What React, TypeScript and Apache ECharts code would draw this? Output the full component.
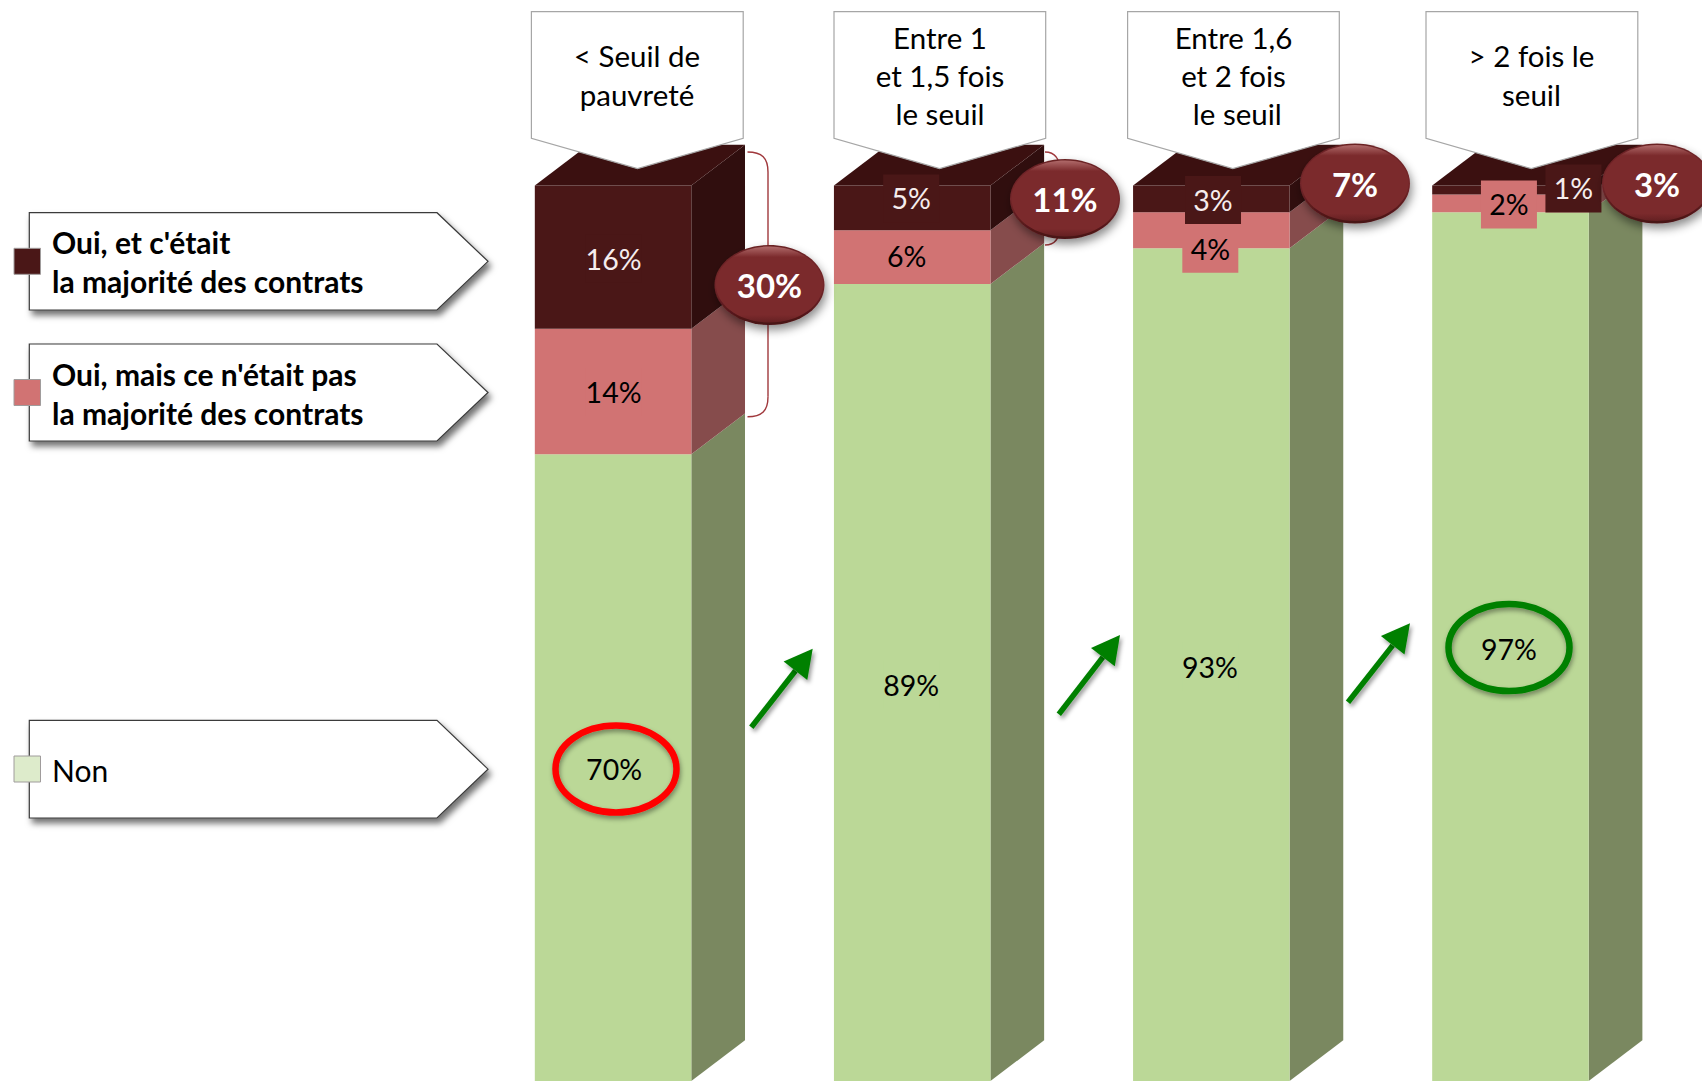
import React, { useEffect, useRef } from "react";
import * as echarts from "echarts";

// Income brackets, left to right
const categories = [
  "< Seuil de\npauvreté",
  "Entre 1\net 1,5 fois\nle seuil",
  "Entre 1,6\net 2 fois\n le seuil",
  "> 2 fois le\nseuil",
];

// Shares in percent
const nonValues = [70, 89, 93, 97];
const ouiMinoriteValues = [14, 6, 4, 2];
const ouiMajoriteValues = [16, 5, 3, 1];
const totalOui = [30, 11, 7, 3];

const nonName = "Non";
const ouiMinoriteName = "Oui, mais ce n'était pas\nla majorité des contrats";
const ouiMajoriteName = "Oui, et c'était\nla majorité des contrats";

// Where the value labels sit relative to the middle of their segment
const nonLabelShift = [[1, 1.5], [-1, 2], [-1.3, 2], [-1.5, 2]];
const ouiMinoriteLabelShift = [[0.5, 0.5], [-5.6, -1], [-1, 18.5], [-1.5, 1]];
const ouiMajoriteLabelShift = [[0.5, 1.5], [-1, -9.5], [1.7, 1], [63, -1.5]];

// Badge centres for the totals
const badgeCentres = [[769.5, 285], [1065, 199], [1355, 183.5], [1657, 183.5]];
// Header callouts: left edge, right edge, tip
const headerBoxes = [[531.4, 743.2, 637.5], [834, 1045.7, 939.6], [1127.6, 1339.3, 1232.8], [1426, 1637.8, 1531.3]];
const headerTextX = [637, 940, 1233.5, 1531.5];
// Trend arrows between the columns: tail x, tail y, tip x, tip y
const trendArrows = [
  [751.3, 727.3, 812.7, 648.7],
  [1058.8, 714.3, 1120, 635],
  [1348, 702.3, 1410, 623.3],
];

const COLORS = {
  dark: { front: "#4A1717", side: "#300E0E", top: "#3B1010" },
  pink: { front: "#D17373", side: "#864C4C" },
  green: { front: "#BBD897", side: "#7A8860" },
};
const FONT = "Lato";
const BAR_WIDTH = 156.5;
const DEPTH_X = 53.7;
const DEPTH_Y = 40.7;
const LABEL_SIZE = 28.5;

// One stacked segment of a column: a front face and a side face,
// plus the top face for the uppermost segment.
function segmentRenderer(front: string, side: string, top?: string) {
  return (_params: any, api: any) => {
    const i = api.value(0);
    const [cx, yLow] = api.coord([i, api.value(1)]);
    const [, yHigh] = api.coord([i, api.value(2)]);
    const l = cx - BAR_WIDTH / 2;
    const r = cx + BAR_WIDTH / 2;
    const children: any[] = [
      {
        type: "polygon",
        shape: { points: [[r, yHigh], [r + DEPTH_X, yHigh - DEPTH_Y], [r + DEPTH_X, yLow - DEPTH_Y], [r, yLow]] },
        style: { fill: side },
      },
      { type: "rect", shape: { x: l, y: yHigh, width: BAR_WIDTH, height: yLow - yHigh }, style: { fill: front } },
    ];
    if (top) {
      children.push({
        type: "polygon",
        shape: { points: [[l, yHigh], [l + DEPTH_X, yHigh - DEPTH_Y], [r + DEPTH_X, yHigh - DEPTH_Y], [r, yHigh]] },
        style: { fill: top },
      });
    }
    return { type: "group", children };
  };
}

function stacked(lower: number[], values: number[]) {
  return values.map((v, i) => [i, lower[i], lower[i] + v]);
}

function labelRenderer(fill: string, textColor: string, shifts: number[][]) {
  return (_params: any, api: any) => {
    const i = api.value(0);
    const v = api.value(2) - api.value(1);
    const [cx, cy] = api.coord([i, (api.value(1) + api.value(2)) / 2]);
    const x = cx + shifts[i][0];
    const y = cy + shifts[i][1];
    return {
      type: "group",
      children: [
        { type: "rect", shape: { x: x - 28, y: y - 24, width: 56, height: 48 }, style: { fill } },
        {
          type: "text",
          style: {
            x,
            y,
            text: `${v}%`,
            fill: textColor,
            font: `${LABEL_SIZE}px ${FONT}`,
            align: "center",
            verticalAlign: "middle",
          },
        },
      ],
    };
  };
}

function badgeRenderer(_params: any, api: any) {
  const i = api.value(0);
  const [cx, cy] = badgeCentres[i];
  return {
    type: "group",
    children: [
      {
        type: "ellipse",
        shape: { cx, cy, rx: 55, ry: 40 },
        style: {
          fill: new echarts.graphic.LinearGradient(0, 0, 0, 1, [
            { offset: 0, color: "#6A2224" },
            { offset: 0.5, color: "#73262A" },
            { offset: 1, color: "#481214" },
          ]),
          shadowBlur: 10,
          shadowColor: "rgba(0,0,0,0.45)",
          shadowOffsetX: 2,
          shadowOffsetY: 5,
        },
      },
      {
        type: "ellipse",
        shape: { cx, cy: cy - 0.5, rx: 53.5, ry: 38 },
        style: {
          fill: new echarts.graphic.LinearGradient(0, 0, 0, 1, [
            { offset: 0, color: "#B06A6A" },
            { offset: 0.14, color: "#7B2A2C" },
            { offset: 0.9, color: "#7B2A2C" },
            { offset: 1, color: "#642022" },
          ]),
        },
      },
      {
        type: "text",
        style: {
          x: cx,
          y: cy,
          text: `${api.value(1)}%`,
          fill: "#FFFFFF",
          font: `bold 33px ${FONT}`,
          align: "center",
          verticalAlign: "middle",
        },
      },
    ],
  };
}

function legendCallout(top: number, bottom: number, swatch: string, swatchTop: number, name: string, bold: boolean, textY: number) {
  const mid = (top + bottom) / 2;
  return [
    {
      type: "polygon",
      z: 20,
      shape: { points: [[29.3, top], [437, top], [488, mid], [437, bottom], [29.3, bottom]] },
      style: {
        fill: "#FFFFFF",
        stroke: "#3A3A3A",
        lineWidth: 1.2,
        shadowBlur: 6,
        shadowColor: "rgba(0,0,0,0.55)",
        shadowOffsetX: 3,
        shadowOffsetY: 5,
      },
    },
    {
      type: "rect",
      z: 21,
      shape: { x: 14, y: swatchTop, width: 26.5, height: 26 },
      style: { fill: swatch, stroke: "#A09C9C", lineWidth: 1 },
    },
    {
      type: "text",
      z: 21,
      style: {
        x: 52,
        y: textY,
        text: name,
        fill: "#000000",
        font: `${bold ? "bold " : ""}30px ${FONT}`,
        lineHeight: 38.7,
        align: "left",
        verticalAlign: "middle",
      },
    },
  ];
}

function braceElements(x0: number, x1: number, top: number, bottom: number) {
  const stroke = "#A0383C";
  const common = { z: 25, style: { stroke, fill: "none", lineWidth: 1.4 } };
  return [
    { type: "bezierCurve", ...common, shape: { x1: x0, y1: top, cpx1: x1 - 6, cpy1: top, cpx2: x1, cpy2: top + 6, x2: x1, y2: top + 20 } },
    { type: "line", ...common, shape: { x1, y1: top + 20, x2: x1, y2: bottom - 20 } },
    { type: "bezierCurve", ...common, shape: { x1, y1: bottom - 20, cpx1: x1, cpy1: bottom - 6, cpx2: x1 - 6, cpy2: bottom, x2: x0, y2: bottom } },
  ];
}

function arrowElements([x1, y1, x2, y2]: number[]) {
  const len = Math.hypot(x2 - x1, y2 - y1);
  const ux = (x2 - x1) / len;
  const uy = (y2 - y1) / len;
  const bx = x2 - ux * 28;
  const by = y2 - uy * 28;
  const shadow = { shadowBlur: 4, shadowColor: "rgba(0,0,0,0.4)", shadowOffsetX: 2, shadowOffsetY: 3 };
  return [
    { type: "line", z: 15, shape: { x1, y1, x2: bx, y2: by }, style: { stroke: "#008000", lineWidth: 5.5, ...shadow } },
    {
      type: "polygon",
      z: 15,
      shape: { points: [[x2, y2], [bx - uy * 15, by + ux * 15], [bx + uy * 15, by - ux * 15]] },
      style: { fill: "#008000", ...shadow },
    },
  ];
}

function ringElement(cx: number, cy: number, stroke: string) {
  return {
    type: "ellipse",
    z: 15,
    shape: { cx, cy, rx: 60.5, ry: 43.5 },
    style: {
      fill: "none",
      stroke,
      lineWidth: 6.5,
      shadowBlur: 5,
      shadowColor: "rgba(0,0,0,0.4)",
      shadowOffsetX: 1,
      shadowOffsetY: 3,
    },
  };
}

function headerElements(text: string, i: number) {
  const [l, r, tip] = headerBoxes[i];
  return [
    {
      type: "polygon",
      z: 10,
      shape: { points: [[l, 11.7], [r, 11.7], [r, 138.3], [tip, 168.7], [l, 138.3]] },
      style: { fill: "#FFFFFF", stroke: "#A6A6A6", lineWidth: 1.2 },
    },
    {
      type: "text",
      z: 11,
      style: {
        x: headerTextX[i],
        y: text.split("\n").length === 3 ? 75.5 : 75,
        text,
        fill: "#000000",
        font: `29.5px ${FONT}`,
        lineHeight: 38.4,
        align: "center",
        verticalAlign: "middle",
      },
    },
  ];
}

export default function App() {
  const ref = useRef<HTMLDivElement>(null);
  useEffect(() => {
    const chart = echarts.init(ref.current!, undefined, { renderer: "svg" });
    const zeros = nonValues.map(() => 0);
    const nonData = stacked(zeros, nonValues);
    const minoriteData = stacked(nonValues, ouiMinoriteValues);
    const majoriteData = stacked(nonValues.map((v, i) => v + ouiMinoriteValues[i]), ouiMajoriteValues);
    const segment = (name: string, data: number[][], renderItem: any, z: number) => ({
      type: "custom",
      name,
      data,
      renderItem,
      z,
      clip: false,
      silent: true,
      encode: { x: 0, y: [1, 2] },
    });
    chart.setOption({
      animation: false,
      backgroundColor: "#FFFFFF",
      grid: { left: 463.5, width: 1196.5, top: 185.5, height: 899 },
      xAxis: { type: "category", data: categories, show: false },
      yAxis: { type: "value", min: 0, max: 100, show: false },
      series: [
        segment(nonName, nonData, segmentRenderer(COLORS.green.front, COLORS.green.side), 2),
        segment(ouiMinoriteName, minoriteData, segmentRenderer(COLORS.pink.front, COLORS.pink.side), 2),
        segment(ouiMajoriteName, majoriteData, segmentRenderer(COLORS.dark.front, COLORS.dark.side, COLORS.dark.top), 2),
        segment("labels-non", nonData, labelRenderer(COLORS.green.front, "#000000", nonLabelShift), 3),
        segment("labels-minorite", minoriteData, labelRenderer(COLORS.pink.front, "#000000", ouiMinoriteLabelShift), 3),
        segment("labels-majorite", majoriteData, labelRenderer(COLORS.dark.front, "#F6EDED", ouiMajoriteLabelShift), 3),
        {
          type: "custom",
          name: "total",
          data: totalOui.map((v, i) => [i, v]),
          renderItem: badgeRenderer,
          z: 30,
          clip: false,
          silent: true,
          encode: { x: 0, y: 1 },
        },
      ],
      graphic: {
        elements: [
          ...categories.flatMap(headerElements),
          ...legendCallout(212.7, 310, COLORS.dark.front, 248.3, ouiMajoriteName, true, 261.5),
          ...legendCallout(344, 441, COLORS.pink.front, 379.5, ouiMinoriteName, true, 393.5),
          ...legendCallout(720.3, 818, "#DDEBCB", 756, nonName, false, 770),
          ...braceElements(747.5, 768, 152, 416.7),
          ...braceElements(1045, 1060, 152, 245),
          ...trendArrows.flatMap(arrowElements),
          ringElement(616, 769, "#FF0000"),
          ringElement(1509, 647.5, "#008000"),
        ],
      },
    });
    return () => chart.dispose();
  }, []);
  return <div ref={ref} style={{ position: "fixed", left: 0, top: 0, width: 1702, height: 1081 }} />;
}
